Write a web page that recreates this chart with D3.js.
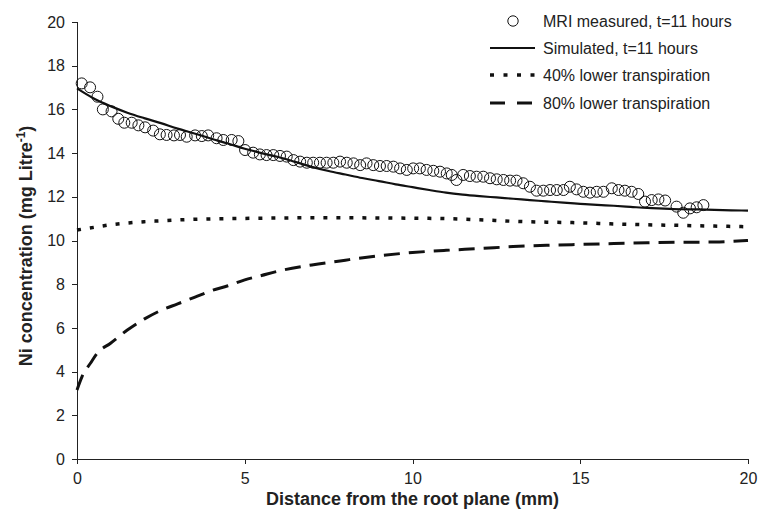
<!DOCTYPE html>
<meta charset="utf-8">
<style>
body { margin: 0; background: #fff; }
svg { font-family: "Liberation Sans", Arial, Helvetica, sans-serif; }
.axis path, .axis line { stroke: #222; stroke-width: 1px; shape-rendering: crispEdges; }
.axis text { font-size: 16px; fill: #222; }
.title { font-size: 18px; font-weight: bold; fill: #222; }
.legend text { font-size: 16px; fill: #222; }
</style>
<body>
<svg id="chart" width="769" height="515"></svg>
<script src="https://d3js.org/d3.v7.min.js"></script>
<script>
// measured MRI points (mm, mg/L)
var mriX = [0.14,0.39,0.61,0.77,1.03,1.23,1.41,1.63,1.83,2.03,2.27,2.47,2.67,2.89,3.07,3.27,3.52,3.72,3.91,4.16,4.36,4.61,4.81,5.01,
  5.25,5.45,5.65,5.85,6.05,6.25,6.45,6.65,6.85,7.04,7.24,7.44,7.64,7.84,8.04,8.24,8.44,8.63,8.83,9.03,9.23,9.43,9.63,9.83,10.02,
  10.22,10.42,10.62,10.82,11.02,11.17,11.31,11.51,11.71,11.91,12.11,12.31,12.51,12.71,12.91,13.1,13.3,13.5,13.7,13.9,14.1,14.3,14.5,14.69,14.89,
  15.09,15.29,15.49,15.69,15.94,16.14,16.33,16.53,16.73,16.93,17.13,17.33,17.53,17.87,18.07,18.27,18.47,18.67];
var mriY = [17.19,17.01,16.58,16.0,15.91,15.57,15.39,15.39,15.27,15.18,15.03,14.86,14.83,14.81,14.83,14.75,14.81,14.78,14.81,14.68,14.6,14.6,14.55,14.14,
  14.02,13.94,13.91,13.91,13.87,13.84,13.68,13.61,13.56,13.56,13.56,13.56,13.56,13.61,13.56,13.53,13.45,13.53,13.45,13.41,13.41,13.38,13.3,13.23,13.3,
  13.3,13.23,13.19,13.15,13.07,13.0,12.77,13.0,12.95,12.92,12.92,12.85,12.8,12.77,12.74,12.74,12.62,12.46,12.28,12.28,12.31,12.31,12.31,12.46,12.34,
  12.23,12.19,12.23,12.23,12.39,12.31,12.28,12.23,12.13,11.78,11.85,11.88,11.83,11.55,11.27,11.47,11.52,11.62];

// simulated, t=11 hours
var simX = [0,0.5,1,1.5,2,2.5,3,3.5,4,4.5,5,5.5,6,6.5,7,7.5,8,8.5,9,9.5,10,10.5,11,11.5,12,12.5,13,13.5,14,14.5,15,15.5,16,16.5,17,17.5,18,18.5,19,19.5,20];
var simY = [16.96,16.5,16.15,15.85,15.6,15.37,15.12,14.9,14.66,14.44,14.2,14.0,13.82,13.6,13.37,13.18,13.02,12.86,12.72,12.57,12.44,12.31,12.19,12.1,12.03,11.97,11.91,11.85,11.79,11.73,11.68,11.63,11.59,11.54,11.49,11.46,11.43,11.42,11.4,11.38,11.37];

// 40% lower transpiration
var low40X = [0,0.5,1,1.5,2,2.5,3,3.5,4,5,6,7,8,9,10,11,12,13,14,15,16,17,18,19,20];
var low40Y = [10.48,10.6,10.72,10.8,10.86,10.9,10.94,10.97,10.99,11.01,11.03,11.04,11.04,11.03,11.02,11.0,10.95,10.88,10.84,10.81,10.76,10.72,10.69,10.66,10.63];

// 80% lower transpiration
var low80X = [0,0.15,0.4,0.6,1,1.5,2,2.5,3,3.5,4,4.5,5,5.5,6,7,8,9,10,11,12,13,14,15,16,17,18,19,20];
var low80Y = [3.16,3.77,4.38,4.84,5.3,5.9,6.4,6.8,7.1,7.4,7.7,7.93,8.2,8.4,8.6,8.88,9.1,9.3,9.45,9.55,9.63,9.72,9.78,9.82,9.86,9.9,9.92,9.93,10.0];

var xTicks = [0,5,10,15,20];
var yTicks = [0,2,4,6,8,10,12,14,16,18,20];

var legendLabels = ["MRI measured, t=11 hours", "Simulated, t=11 hours", "40% lower transpiration", "80% lower transpiration"];

var svg = d3.select("#chart");
var x = d3.scaleLinear().domain([0, 20]).range([77, 748]);
var y = d3.scaleLinear().domain([0, 20]).range([459, 22]);

function pts(xs, ys) { return xs.map(function (v, i) { return [v, ys[i]]; }); }
var line = d3.line().x(function (d) { return x(d[0]); }).y(function (d) { return y(d[1]); }).curve(d3.curveMonotoneX);

// axes
svg.append("g").attr("class", "axis")
  .attr("transform", "translate(0," + y(0) + ")")
  .call(d3.axisBottom(x).tickValues(xTicks).tickSize(5).tickPadding(9).tickSizeOuter(5));
svg.append("g").attr("class", "axis")
  .attr("transform", "translate(" + x(0) + ",0)")
  .call(d3.axisLeft(y).tickValues(yTicks).tickSize(5).tickPadding(7).tickSizeOuter(5));
svg.selectAll(".axis .domain").attr("fill", "none");

// lines
svg.append("path").attr("d", line(pts(simX, simY)))
  .attr("fill", "none").attr("stroke", "#111").attr("stroke-width", 2.2);
svg.append("path").attr("d", line(pts(low40X, low40Y)))
  .attr("fill", "none").attr("stroke", "#111").attr("stroke-width", 3.5).attr("stroke-dasharray", "4,9");
svg.append("path").attr("d", line(pts(low80X, low80Y)))
  .attr("fill", "none").attr("stroke", "#111").attr("stroke-width", 3).attr("stroke-dasharray", "16,9");

// measured circles
svg.append("g").selectAll("circle").data(pts(mriX, mriY)).enter().append("circle")
  .attr("cx", function (d) { return x(d[0]); })
  .attr("cy", function (d) { return y(d[1]); })
  .attr("r", 5.5)
  .attr("fill", "none").attr("stroke", "#111").attr("stroke-width", 1);

// axis titles
svg.append("text").attr("class", "title")
  .attr("x", (x(0) + x(20)) / 2).attr("y", 505).attr("text-anchor", "middle")
  .text("Distance from the root plane (mm)");
var yt = svg.append("text").attr("class", "title")
  .attr("transform", "translate(32,246) rotate(-90)").attr("text-anchor", "middle");
yt.append("tspan").text("Ni concentration (mg Litre");
yt.append("tspan").attr("font-size", "12px").attr("dy", "-7").text("-1");
yt.append("tspan").attr("dy", "7").text(")");

// legend
var leg = svg.append("g").attr("class", "legend");
var rowY = [21, 48, 75, 103];
leg.append("circle").attr("cx", 513).attr("cy", rowY[0]).attr("r", 5.2)
  .attr("fill", "none").attr("stroke", "#111").attr("stroke-width", 1);
leg.append("line").attr("x1", 490).attr("x2", 535).attr("y1", rowY[1]).attr("y2", rowY[1])
  .attr("stroke", "#111").attr("stroke-width", 2.2);
leg.append("line").attr("x1", 490).attr("x2", 535).attr("y1", rowY[2]).attr("y2", rowY[2])
  .attr("stroke", "#111").attr("stroke-width", 3.5).attr("stroke-dasharray", "4,9.5");
leg.append("line").attr("x1", 490).attr("x2", 535).attr("y1", rowY[3]).attr("y2", rowY[3])
  .attr("stroke", "#111").attr("stroke-width", 3).attr("stroke-dasharray", "15,12");
leg.selectAll("text").data(legendLabels).enter().append("text")
  .attr("x", 543).attr("y", function (d, i) { return rowY[i]; }).attr("dy", "0.36em")
  .text(function (d) { return d; });
</script>
</body>
